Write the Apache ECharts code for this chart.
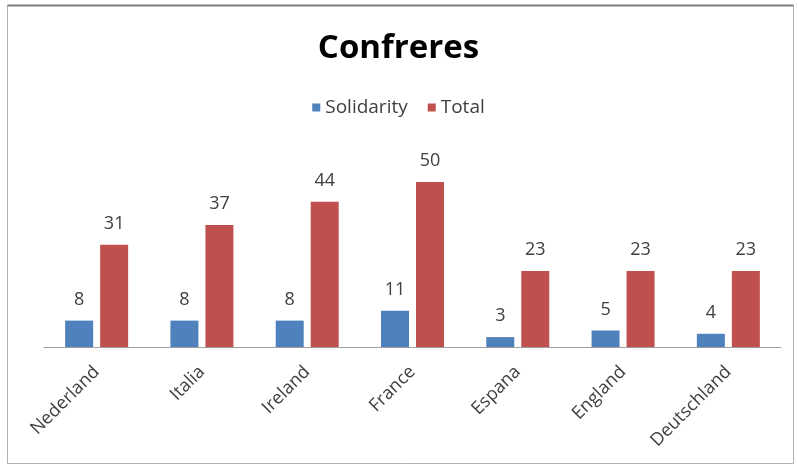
<!DOCTYPE html>
<html>
<head>
<meta charset="utf-8">
<script src="https://cdn.jsdelivr.net/npm/echarts@6/dist/echarts.min.js"></script>
<style>
  html, body { margin: 0; padding: 0; background: #fff; }
  #chart { width: 797px; height: 467px; }
</style>
</head>
<body>
<div id="chart"></div>
<script>
// 数据
const countries = ['Nederland', 'Italia', 'Ireland', 'France', 'Espana', 'England', 'Deutschland']
const solidarity = [8, 8, 8, 11, 3, 5, 4]
const total = [31, 37, 44, 50, 23, 23, 23]

const FONT = '"Open Sans", sans-serif'

const chart = echarts.init(document.getElementById('chart'))
chart.setOption({
  animation: false,
  backgroundColor: '#fff',
  // 外框
  graphic: [{
    type: 'rect',
    shape: { x: 7.5, y: 5.5, width: 786, height: 458 },
    style: { fill: 'none', stroke: '#b0b0b0', lineWidth: 1 },
    silent: true
  }, {
    type: 'line',
    shape: { x1: 7.5, y1: 5.5, x2: 793.5, y2: 5.5 },
    style: { stroke: '#7f7f7f', lineWidth: 2 },
    silent: true
  }],
  title: {
    text: 'Confreres',
    left: 'center',
    top: 27,
    textStyle: { fontFamily: FONT, fontSize: 33, fontWeight: 'bold', color: '#000' }
  },
  legend: {
    data: ['Solidarity', 'Total'],
    left: 'center',
    top: 93,
    itemWidth: 8,
    itemHeight: 8,
    itemGap: 20,
    icon: 'rect',
    textStyle: { fontFamily: FONT, fontSize: 19, color: '#404040', padding: [0, 0, 0, 0] }
  },
  grid: { left: 44, right: 16, top: 149, bottom: 120 },
  xAxis: {
    type: 'category',
    data: countries,
    axisLine: { lineStyle: { color: '#a0a0a0', width: 1 } },
    axisTick: { show: false },
    axisLabel: {
      rotate: 45,
      interval: 0,
      margin: 22,
      fontFamily: FONT,
      fontSize: 18,
      color: '#404040'
    }
  },
  yAxis: {
    type: 'value',
    min: 0,
    max: 60,
    show: false,
    splitLine: { show: false }
  },
  series: [
    {
      name: 'Solidarity',
      type: 'bar',
      data: solidarity,
      barWidth: 28,
      barGap: '25%',
      itemStyle: { color: '#4f81bd' },
      label: { show: true, position: 'top', distance: 12, fontFamily: FONT, fontSize: 18, color: '#404040' }
    },
    {
      name: 'Total',
      type: 'bar',
      data: total,
      barWidth: 28,
      itemStyle: { color: '#c0504d' },
      label: { show: true, position: 'top', distance: 12, fontFamily: FONT, fontSize: 18, color: '#404040' }
    }
  ]
})
</script>
</body>
</html>
